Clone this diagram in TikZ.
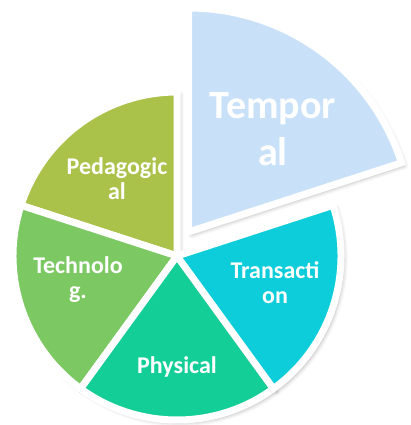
\documentclass[tikz,border=0pt]{standalone}
\usepackage{fontspec}
\setmainfont{Carlito}
\usetikzlibrary{shadows.blur}
\definecolor{pedagc}{HTML}{AAC24A}
\definecolor{techc}{HTML}{7CC963}
\definecolor{physc}{HTML}{14CE97}
\definecolor{transc}{HTML}{0CCDD9}
\definecolor{tempc}{HTML}{C8E1F8}
\begin{document}
\begin{tikzpicture}[x=1pt,y=1pt,
  slice/.style={draw=white, line width=7pt, line join=miter,
    blur shadow={shadow xshift=3pt, shadow yshift=-3pt, shadow blur radius=4pt, shadow opacity=30}},
  lbl/.style={text=white, font=\bfseries\fontsize{24}{25}\selectfont, align=center, inner sep=0pt},
  biglbl/.style={text=white, font=\bfseries\fontsize{40}{47}\selectfont, align=center, inner sep=0pt}]
\useasboundingbox (0,0) rectangle (411,425);
\coordinate (C) at (177,169);
\coordinate (T) at (188.5,193);
% main slices
\draw[slice, fill=pedagc] (C) -- ++(90:164) arc[start angle=90, end angle=162, radius=164] -- cycle;
\draw[slice, fill=techc] (C) -- ++(162:164) arc[start angle=162, end angle=234, radius=164] -- cycle;
\draw[slice, fill=physc] (C) -- ++(234:164) arc[start angle=234, end angle=306, radius=164] -- cycle;
\draw[slice, fill=transc] (C) -- ++(306:164) arc[start angle=306, end angle=378, radius=164] -- cycle;
% exploded slice
\draw[slice, fill=tempc] (T) -- ++(18:224) arc[start angle=18, end angle=90, radius=224] -- cycle;
% labels
\node[lbl] (ped) at (117,246) {Pedagogic\\al};
\node[lbl] (tec) at (78,145) {Technolo\\g.};
\node[lbl] (phy) at (177,58) {Physical};
\node[lbl] (tra) at (275,142) {Transacti\\on};
\node[biglbl] (tem) at (273,296) {Tempor\\al};
\end{tikzpicture}
\end{document}
